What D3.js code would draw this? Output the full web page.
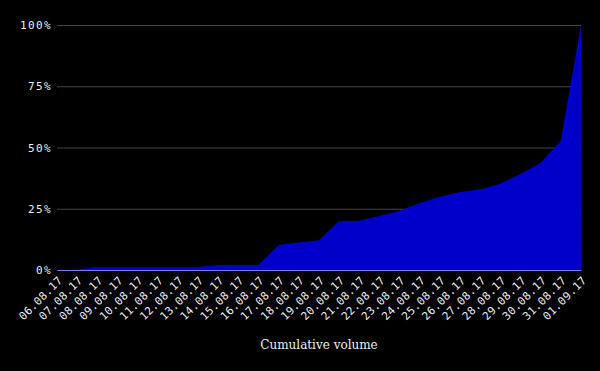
<!DOCTYPE html>
<html>
<head>
<meta charset="utf-8">
<script src="https://cdn.jsdelivr.net/npm/d3@7"></script>
<style>
  html, body { margin: 0; padding: 0; background: #000; }
  svg { display: block; }
</style>
</head>
<body>
<div id="chart"></div>
<script>
// dates on the x axis
const dates = [
    '06.08.17', '07.08.17', '08.08.17', '09.08.17', '10.08.17', '11.08.17',
    '12.08.17', '13.08.17', '14.08.17', '15.08.17', '16.08.17', '17.08.17',
    '18.08.17', '19.08.17', '20.08.17', '21.08.17', '22.08.17', '23.08.17',
    '24.08.17', '25.08.17', '26.08.17', '27.08.17', '28.08.17', '29.08.17',
    '30.08.17', '31.08.17', '01.09.17'
]
// cumulative share of volume, in percent
const cumulative = [
    0, 0.2, 1.2, 1.2, 1.2, 1.2,
    1.2, 1.2, 2, 2, 2, 10.2,
    11.2, 12.1, 20, 20.1, 22, 24.2,
    27.2, 29.9, 31.8, 32.9, 35.2, 39.2,
    43.8, 52.8, 100
]
const yTicks = [0, 25, 50, 75, 100]
const title = 'Cumulative volume'

const width = 600
const height = 371
const margin = { top: 25, right: 19, bottom: 101, left: 57 }

const svg = d3.select('#chart').append('svg')
    .attr('width', width)
    .attr('height', height)

svg.append('rect')
    .attr('width', width)
    .attr('height', height)
    .attr('fill', '#000')

const x = d3.scalePoint()
    .domain(dates)
    .range([margin.left, width - margin.right])

const y = d3.scaleLinear()
    .domain([0, 100])
    .range([height - margin.bottom, margin.top])

// y axis with grid lines
const yAxis = svg.append('g')
    .attr('transform', `translate(${margin.left},0)`)
    .call(d3.axisLeft(y)
        .tickValues(yTicks)
        .tickFormat(d => d + '%')
        .tickSize(-(width - margin.left - margin.right))
        .tickPadding(5))
yAxis.select('.domain').remove()
yAxis.selectAll('.tick line')
    .attr('stroke', '#444')
    .attr('stroke-width', 1)
yAxis.selectAll('.tick text')
    .attr('fill', '#eee')
    .style('font-family', '"DejaVu Sans Mono", monospace')
    .style('font-size', '11px')
    .style('letter-spacing', '1.4px')

// area
const rows = dates.map((d, i) => ({ date: d, value: cumulative[i] }))
const area = d3.area()
    .x(d => x(d.date))
    .y0(y(0))
    .y1(d => y(d.value))

svg.append('path')
    .datum(rows)
    .attr('d', area)
    .attr('fill', '#0000d6')
    .attr('fill-opacity', 0.95)

// x axis
const xAxis = svg.append('g')
    .attr('transform', `translate(0,${height - margin.bottom})`)
    .call(d3.axisBottom(x).tickSize(0).tickPadding(8))
xAxis.select('.domain')
    .attr('stroke', '#7a7aff')
    .attr('stroke-width', 1)
xAxis.selectAll('.tick text')
    .attr('fill', '#eee')
    .style('font-family', '"DejaVu Sans Mono", monospace')
    .style('font-size', '11px')
    .style('letter-spacing', '0.4px')
    .attr('text-anchor', 'end')
    .attr('dx', '-0.35em')
    .attr('dy', '0.35em')
    .attr('transform', 'rotate(-45)')

// title
svg.append('text')
    .attr('x', (margin.left + width - margin.right) / 2)
    .attr('y', 349)
    .attr('text-anchor', 'middle')
    .attr('fill', '#eee')
    .style('font-family', '"DejaVu Serif", serif')
    .style('font-size', '12px')
    .text(title)
</script>
</body>
</html>
